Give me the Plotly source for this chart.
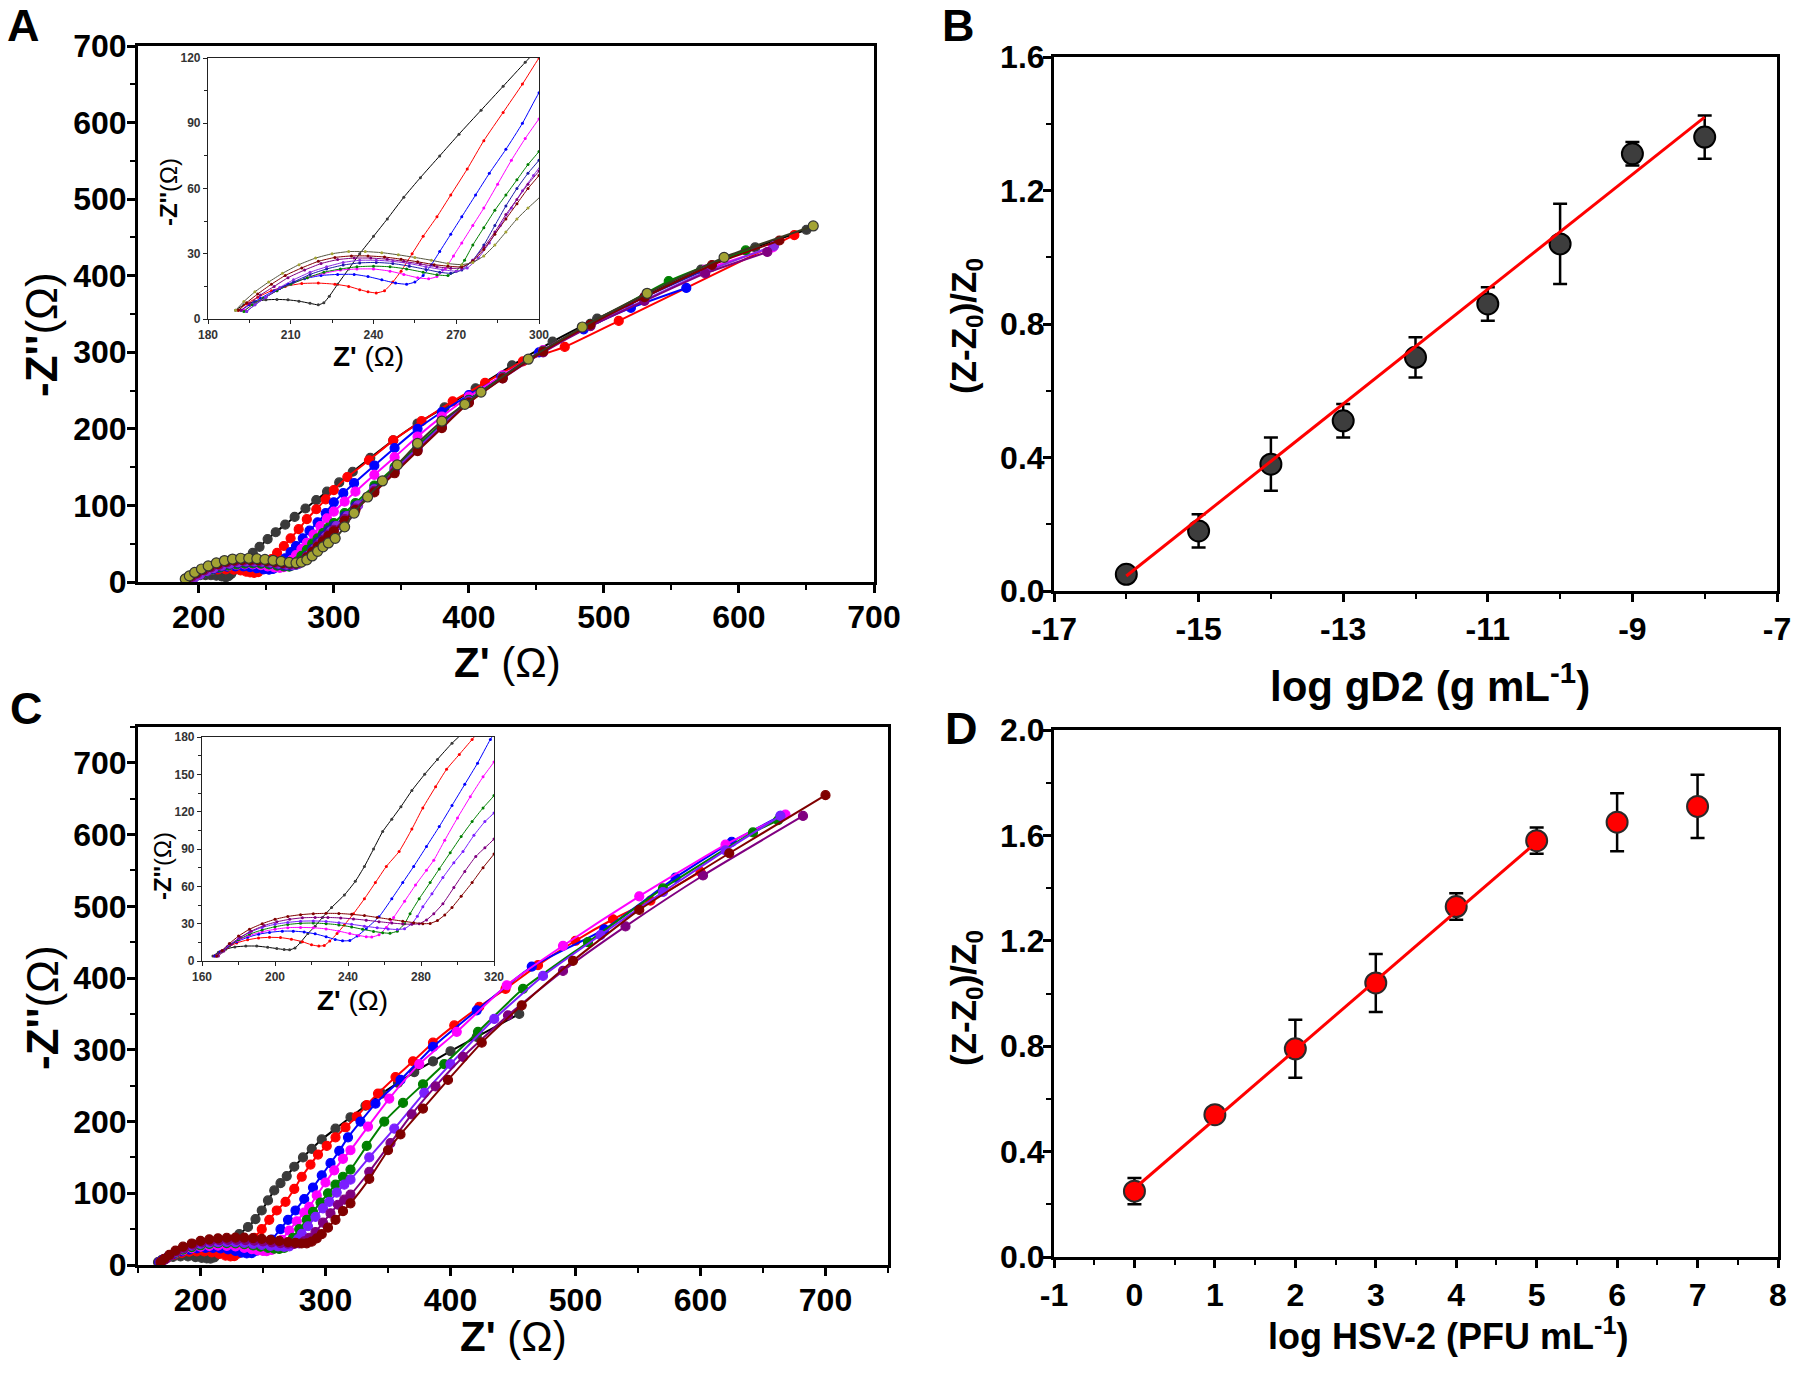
import plotly.graph_objects as go

# ---------------- Panel A : Nyquist curves (gD2) ----------------
A_black_z = [190,193,197,201,205,209,213,217,220,222,224,227,231,235,240,245,251,257,264,271,279,287,295,304,314,327,344,362,382,405,432,462,495,532,572,612,650]
A_black_y = [4,6.5,8,8.8,9,8.8,8.2,7.2,6.5,7.5,10.5,16,23,30,38,46,56,65,75,85,96,107,118,130,144,162,185,207,228,253,283,314,344,375,408,437,460]
A_red_z = [191,194,198,203,208,214,220,226,231,235,238,241,244,247,250,254,258,263,268,274,280,287,294,300,310,326,344,365,388,412,440,471,511,641]
A_red_y = [4,7,10,13,15,16.3,16.5,16,15,13.5,12.5,12,13,17,22,30,38,47,57,69,82,95,108,120,137,159,185,210,236,260,288,307,341,453]
A_blue_z = [192,195,199,204,209,215,221,227,233,238,243,248,252,255,258,261,264,268,272,277,282,288,294,300,307,315,330,345,362,380,400,424,452,485,520,561]
A_blue_y = [4,6.5,9.5,13,16,18.5,20,20.5,20.5,19.5,18,16.5,16,17,20,25,31,39,47,57,67,78,90,104,116,129,152,175,200,222,244,268,300,330,358,384]
A_mag_z = [193,196,200,205,210,216,222,228,234,240,246,251,256,260,263,266,269,272,276,280,285,290,295,300,308,316,330,345,362,380,400,425,455,490,530,575,625]
A_mag_y = [4,6.5,9.5,13,16,19,21,22.5,23,23,22,20.5,19,18.5,19.5,23,29,35,43,51,62,73,83,92,105,118,140,163,190,216,242,270,303,337,372,408,437]
A_green_z = [193,196,200,205,210,216,222,228,234,240,246,252,258,263,267,270,273,276,280,284,288,292,296,300,308,316,330,345,362,380,400,425,455,490,548,605]
A_green_y = [3.5,6.5,9.5,13,16,19,21.5,23,24,24.3,24,23,21.5,20.3,20,22,27,34,42,50,57,64,71,77,90,103,126,150,178,207,238,268,302,337,393,433]
A_navy_z = [194,197,201,206,211,217,223,229,235,241,247,253,259,264,268,272,276,280,284,288,292,296,300,308,316,330,345,362,380,400,425,455,490,530,580]
A_navy_y = [3.5,6.5,10,14,17,20.5,23,24.8,25.8,26,25.5,24.3,22.8,21.5,21,22.5,27,34,43,52,60,67,73,86,99,122,147,175,205,237,267,301,336,372,412]
A_violet_z = [194,197,201,206,211,217,223,229,235,241,247,253,259,265,270,274,278,282,286,290,294,298,302,310,318,330,345,362,380,400,425,455,490,530,575,626]
A_violet_y = [3.5,6.5,10,14.5,18,21.5,24,26,27,27,26.5,25.5,24,22.7,22,23.5,28,35,43,51,59,66,73,86,100,121,146,174,204,236,267,301,335,368,405,439]
A_purple_z = [192,195,199,204,209,215,221,227,233,239,245,251,257,263,268,272,276,280,284,288,292,296,300,308,316,330,345,362,380,400,425,455,490,530,575,621]
A_purple_y = [4,7,11,15,19,22.5,25.5,27.3,28,28,27.5,26.5,25.3,24,23.3,23.5,27,33,40,48,55,62,68,82,96,119,144,172,202,235,266,300,334,367,403,431]
A_wine_z = [191,194,198,203,208,214,220,226,232,238,244,250,256,262,267,272,276,280,284,288,292,296,300,308,316,330,345,362,380,400,425,455,490,530,580,630]
A_wine_y = [4,7.5,11.5,16,20,23.5,26.5,28.3,29,29,28.5,27.5,26.3,25,24.3,24,26.5,32,39,46,53,60,66,80,94,117,142,171,201,234,266,301,336,372,414,446]
A_olive_z = [190,193,197,202,207,213,219,225,231,237,243,249,255,261,267,272,276,280,284,288,292,296,301,308,315,325,336,347,362,380,397,409,444,484,532,589,655]
A_olive_y = [4,8,12.5,17,21,25,28,30,31,31,30.5,29.5,28.3,27,25.5,25,26,29,34,40,46,51,57,72,90,111,132,153,181,210,232,248,291,333,377,424,465]

# ---------------- Panel C : Nyquist curves (HSV-2) ----------------
C_black_z = [166,169,173,178,184,190,196,201,205,208,211,214,218,222,226,231,238,244,249,254,259,264,269,275,282,289,297,308,320,332,345,358,371,386,400,421,455]
C_black_y = [4,7,9.5,11.3,12,12,11,10,9.2,9,10.5,15,22,28,35,43,53,64,76,90,104,114,124,137,150,162,175,190,206,222,239,254,269,284,298,318,350]
C_red_z = [167,170,174,179,185,191,197,203,209,215,220,224,227,230,234,238,243,249,255,261,268,275,281,288,294,301,308,316,325,333,342,356,370,386,403,423,444,470,500,530,560,600]
C_red_y = [4,7.5,11,14.5,17,18.5,19,18.8,17.5,15.5,13,12,12.5,16,22,29,38,50,63,76,88,106,123,140,154,166,178,192,207,223,239,262,284,310,334,360,385,418,452,482,508,548]
C_blue_z = [167,170,174,179,185,191,197,204,210,216,222,228,233,237,241,245,250,257,264,270,276,283,290,297,304,311,318,328,340,360,386,421,465,523,580,625,664]
C_blue_y = [4,7.5,11.5,15.5,19,21.5,23,24,24,23.3,21.8,19.5,17.3,16.2,16.5,20,26,35.5,50,63,76,92,108,125,142,159,178,200,225,258,304,355,416,468,540,590,626]
C_mag_z = [168,171,175,180,186,193,200,207,214,221,228,235,241,246,250,253,257,261,265,271,277,283,287,293,300,307,314,320,334,351,375,405,445,490,551,620,668]
C_mag_y = [4,7.5,12,16.5,20.5,23.5,25.5,26.8,27,26.7,25.8,24,22,20.5,19.5,19.3,21,27,35,48,61,73,81,97,115,132,148,160,193,232,280,325,390,445,514,586,628]
C_green_z = [168,171,175,180,186,193,200,207,214,221,228,235,242,248,254,259,263,267,271,274,279,285,290,296,302,308,314,320,333,347,362,378,395,422,458,510,570,642,662]
C_green_y = [4,7.5,12,17,21.5,25,27.5,29.3,30.3,30.5,30,29,27.3,25.5,23.8,22.7,22.3,24,30,38,50,63,74,87,100,112,123,133,166,200,226,252,280,325,385,450,525,603,620]
C_violet_z = [168,171,175,180,186,193,200,207,214,221,228,235,242,249,256,262,267,271,275,278,281,286,292,298,303,309,315,320,335,355,379,400,435,474,520,570,620,664]
C_violet_y = [4,8,13,18,23,27,29.5,31,32,32.2,31.8,30.8,29.5,28,26.7,25.8,25.3,26,30,36,43.5,54,67,79,88,101,112,119,150,190,240,280,343,403,460,520,578,626]
C_purple_z = [169,172,176,181,187,194,201,208,215,222,229,236,243,250,257,264,270,275,279,283,287,292,298,304,310,315,320,335,352,369,388,410,446,490,540,602,682]
C_purple_y = [4,8,13.5,19,24,28.5,31.5,33.5,34.7,35,35,34.6,33.8,32.8,31.6,30.5,29.8,29.5,30,33,38,46,59,72,84,91,98,130,170,210,249,290,348,410,472,543,626]
C_wine_z = [168,171,175,180,186,193,200,207,214,221,228,235,242,249,256,263,270,276,281,285,289,293,297,302,308,314,320,335,350,360,378,398,425,457,498,551,623,700]
C_wine_y = [4,8.5,14,20,25.5,30,33.5,35.8,37.2,38,38.3,38.2,37.5,36.5,35,33.5,32,30.8,30,30.2,32.5,37,43,52,63,75,86,120,160,182,218,258,310,362,424,495,574,655]

# ---------------- Panel B : calibration gD2 ----------------
B_logc = [-16, -15, -14, -13, -12, -11, -10, -9, -8]
B_resp = [0.05, 0.18, 0.38, 0.51, 0.70, 0.86, 1.04, 1.31, 1.36]
B_err = [0.02, 0.05, 0.08, 0.05, 0.06, 0.05, 0.12, 0.035, 0.065]
B_fit_x = [-16, -8]
B_fit_y = [0.045, 1.42]
B_xticks = [-17, -15, -13, -11, -9, -7]
B_xticklabels = ["-17", "-15", "-13", "-11", "-9", "-7"]

# ---------------- Panel D : calibration HSV-2 ----------------
D_logc = [0, 1, 2, 3, 4, 5, 6, 7]
D_resp = [0.25, 0.54, 0.79, 1.04, 1.33, 1.58, 1.65, 1.71]
D_err = [0.05, 0.02, 0.11, 0.11, 0.05, 0.05, 0.11, 0.12]
D_fit_x = [0, 5]
D_fit_y = [0.26, 1.575]
D_xticks = [-1, 0, 1, 2, 3, 4, 5, 6, 7, 8]
D_xticklabels = ["-1", "0", "1", "2", "3", "4", "5", "6", "7", "8"]

W, H = 1800, 1373
FONT = "Liberation Sans, Arial, sans-serif"


def px(x):
    return x / W


def py(y):
    return 1 - y / H


A_series = [
    (A_black_z, A_black_y, "#000000", "#3a3a3a"),
    (A_red_z, A_red_y, "#ff0000", "#ff0000"),
    (A_blue_z, A_blue_y, "#0000ff", "#0000ff"),
    (A_mag_z, A_mag_y, "#ff00ff", "#ff00ff"),
    (A_green_z, A_green_y, "#008000", "#008000"),
    (A_navy_z, A_navy_y, "#1a1aa8", "#1a1aa8"),
    (A_violet_z, A_violet_y, "#8a2be2", "#8a2be2"),
    (A_purple_z, A_purple_y, "#800080", "#800080"),
    (A_wine_z, A_wine_y, "#800000", "#800000"),
    (A_olive_z, A_olive_y, "#3a3a22", "#a3a333"),
]
C_series = [
    (C_black_z, C_black_y, "#000000", "#3a3a3a"),
    (C_red_z, C_red_y, "#ff0000", "#ff0000"),
    (C_blue_z, C_blue_y, "#0000ff", "#0000ff"),
    (C_mag_z, C_mag_y, "#ff00ff", "#ff00ff"),
    (C_green_z, C_green_y, "#008000", "#008000"),
    (C_violet_z, C_violet_y, "#7a1fff", "#7a1fff"),
    (C_purple_z, C_purple_y, "#800080", "#800080"),
    (C_wine_z, C_wine_y, "#800000", "#800000"),
]

fig = go.Figure()

for series, (xm, ym), (xi, yi) in [(A_series, ("x", "y"), ("x5", "y5")),
                                   (C_series, ("x3", "y3"), ("x6", "y6"))]:
    for z, y, lc, mc in series:
        is_olive = mc == "#a3a333"
        fig.add_trace(go.Scatter(
            x=z, y=y, xaxis=xm, yaxis=ym, mode="lines+markers",
            line=dict(color=lc, width=2, shape="spline", smoothing=0.5),
            marker=dict(color=mc, size=9 if not is_olive else 10,
                        line=dict(color="#333" if is_olive else mc, width=1.2)),
            showlegend=False, hoverinfo="skip"))
        fig.add_trace(go.Scatter(
            x=z, y=y, xaxis=xi, yaxis=yi, mode="lines+markers",
            line=dict(color=lc if not is_olive else "#555540", width=1, shape="spline", smoothing=0.5),
            marker=dict(color=mc, size=3),
            showlegend=False, hoverinfo="skip"))

# Panel B
fig.add_trace(go.Scatter(x=B_logc, y=B_resp, xaxis="x2", yaxis="y2", mode="markers",
                         marker=dict(color="#3d3d3d", size=21, line=dict(color="#000", width=2)),
                         error_y=dict(type="data", array=B_err, color="#000", thickness=2.5, width=7),
                         showlegend=False))
fig.add_trace(go.Scatter(x=B_fit_x, y=B_fit_y, xaxis="x2", yaxis="y2", mode="lines",
                         line=dict(color="#ff0000", width=3), showlegend=False))

# Panel D
fig.add_trace(go.Scatter(x=D_logc, y=D_resp, xaxis="x4", yaxis="y4", mode="markers",
                         marker=dict(color="#ff0000", size=21, line=dict(color="#2a2a2a", width=2)),
                         error_y=dict(type="data", array=D_err, color="#000", thickness=2.5, width=7),
                         showlegend=False))
fig.add_trace(go.Scatter(x=D_fit_x, y=D_fit_y, xaxis="x4", yaxis="y4", mode="lines",
                         line=dict(color="#ff0000", width=3), showlegend=False))


def main_axis(domain, rng, dtick, minor, anchor, fmt=None, tick0=0, tickvals=None, ticktext=None, standoff=0):
    d = dict(domain=domain, range=rng, dtick=dtick, tick0=tick0, anchor=anchor,
             showline=True, linecolor="black", linewidth=3, mirror=True,
             ticks="outside", ticklen=8, tickwidth=2.5, tickcolor="black",
             showgrid=False, zeroline=False, automargin=False, ticklabelstandoff=standoff,
             tickfont=dict(family=FONT, size=32, color="black", weight="bold"),
             minor=dict(dtick=minor, ticks="outside", ticklen=5, tickwidth=2, tickcolor="black", showgrid=False))
    if fmt:
        d["tickformat"] = fmt
    if tickvals is not None:
        d["tickmode"] = "array"
        d["tickvals"] = tickvals
        d["ticktext"] = ticktext
        d["minor"]["tick0"] = tick0
    return d


def inset_axis(domain, rng, dtick, minor, anchor):
    return dict(domain=domain, range=rng, dtick=dtick, tick0=0, anchor=anchor,
                showline=True, linecolor="#222", linewidth=1.2, mirror=True,
                ticks="outside", ticklen=4, tickwidth=1, tickcolor="#222",
                showgrid=False, zeroline=False, automargin=False,
                tickfont=dict(family=FONT, size=12, color="#333", weight="bold"),
                minor=dict(dtick=minor, ticks="outside", ticklen=2.5, tickwidth=1, tickcolor="#222", showgrid=False))


layout = dict(
    width=W, height=H, margin=dict(l=0, r=0, t=0, b=0, pad=0, autoexpand=False),
    paper_bgcolor="white", plot_bgcolor="white",
    xaxis=main_axis([px(138), px(874)], [155, 700], 100, 50, "y", standoff=-3),
    yaxis=main_axis([py(582), py(46)], [0, 700], 100, 50, "x", standoff=-6),
    xaxis2=main_axis([px(1054), px(1777)], [-17, -7], 2, 1, "y2", tick0=-17,
                     tickvals=B_xticks, ticktext=B_xticklabels),
    yaxis2=main_axis([py(591), py(57)], [0, 1.6], 0.4, 0.2, "x2", fmt=".1f", standoff=-8),
    xaxis3=main_axis([px(138), px(888)], [150, 750], 100, 50, "y3", standoff=-3),
    yaxis3=main_axis([py(1265), py(727)], [0, 750], 100, 50, "x3", standoff=-6),
    xaxis4=main_axis([px(1054), px(1778)], [-1, 8], 1, 0.5, "y4", tick0=-1,
                     tickvals=D_xticks, ticktext=D_xticklabels),
    yaxis4=main_axis([py(1257), py(730)], [0, 2.0], 0.4, 0.2, "x4", fmt=".1f", standoff=-8),
    xaxis5=inset_axis([px(208), px(539)], [180, 300], 30, 15, "y5"),
    yaxis5=inset_axis([py(319), py(58)], [0, 120], 30, 15, "x5"),
    xaxis6=inset_axis([px(202), px(494)], [160, 320], 40, 20, "y6"),
    yaxis6=inset_axis([py(961), py(737)], [0, 180], 30, 15, "x6"),
)
fig.update_layout(**layout)


def ann(text, x, y, size, angle=0, weight="normal"):
    fig.add_annotation(text=text, x=px(x), y=py(y), xref="paper", yref="paper",
                       xanchor="center", yanchor="middle", showarrow=False, textangle=angle,
                       font=dict(family=FONT, size=size, color="black", weight=weight))


# panel letters
ann("A", 23, 25, 45, weight="bold")
ann("B", 958, 25, 45, weight="bold")
ann("C", 26, 709, 45, weight="bold")
ann("D", 961, 728, 45, weight="bold")

# axis titles
ann("<b>Z'</b> (Ω)", 507, 662, 42)
ann("<b>-Z''</b>(Ω)", 42, 335, 44, angle=-90)
ann("<b>Z'</b> (Ω)", 513, 1336, 42)
ann("<b>-Z''</b>(Ω)", 42, 1008, 44, angle=-90)
ann("<b>log gD2 (g mL<sup>-1</sup>)</b>", 1430, 683, 42)
ann("<b>(Z-Z<sub>0</sub>)/Z<sub>0</sub></b>", 966, 326, 35, angle=-90)
ann("<b>log HSV-2 (PFU mL<sup>-1</sup>)</b>", 1448, 1334, 36)
ann("<b>(Z-Z<sub>0</sub>)/Z<sub>0</sub></b>", 966, 998, 35, angle=-90)

# inset titles
ann("<b>Z'</b> (Ω)", 368, 356, 28)
ann("<b>-Z''</b>(Ω)", 168, 192, 24, angle=-90)
ann("<b>Z'</b> (Ω)", 352, 1000, 28)
ann("<b>-Z''</b>(Ω)", 162, 866, 24, angle=-90)

fig.write_html("out.html", config={"displayModeBar": False},
               post_script="document.body.style.margin='0px';document.body.style.padding='0px';")
